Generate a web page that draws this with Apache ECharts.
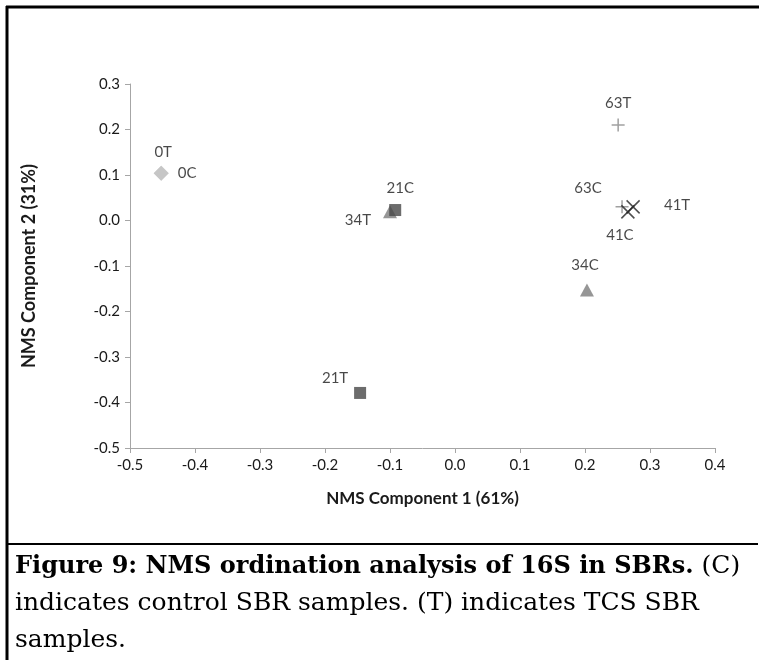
<!DOCTYPE html>
<html>
<head>
<meta charset="utf-8">
<script src="https://cdn.jsdelivr.net/npm/echarts@6/dist/echarts.min.js"></script>
<style>
html,body{margin:0;padding:0;background:#fff;}
#chart{width:759px;height:660px;}
</style>
</head>
<body>
<div id="chart"></div>
<script>
// ---- data ----
const sampleNames = ["0C","0T","21C","21T","34C","34T","41C","41T","63C","63T"];
const comp1 = [-0.452,-0.452,-0.092,-0.146,0.203,-0.100,0.266,0.274,0.257,0.251];
const comp2 = [0.104,0.104,0.023,-0.379,-0.153,0.019,0.019,0.030,0.030,0.210];
const groups = ["0","0","21","21","34","34","41","41","63","63"];
const xTicks = [-0.5,-0.4,-0.3,-0.2,-0.1,0.0,0.1,0.2,0.3,0.4];
const yTicks = [-0.5,-0.4,-0.3,-0.2,-0.1,0.0,0.1,0.2,0.3];
const xTitle = "NMS Component 1 (61%)";
const yTitle = "NMS Component 2 (31%)";
const captionBold = "Figure 9: NMS ordination analysis of 16S in SBRs.";
const captionRest1 = " (C)";
const captionLine2 = "indicates control SBR samples. (T) indicates TCS SBR";
const captionLine3 = "samples.";

// ---- styles ----
const groupStyle = {
  "0":  {symbol:'diamond', size:[15,15], item:{color:'#c3c3c3'}},
  "21": {symbol:'rect', size:[12,12], item:{color:'#474747'}},
  "34": {symbol:'triangle', size:[14,13], item:{color:'#7c7c7c'}},
  "41": {symbol:'path://M0,0L10,10M10,0L0,10', size:[13,13], item:{color:'rgba(0,0,0,0)', borderColor:'#222', borderWidth:1.5}},
  "63": {symbol:'path://M0,5L10,5M5,0L5,10', size:[13,13], item:{color:'rgba(0,0,0,0)', borderColor:'#888', borderWidth:1.5}}
};
const labelOffset = {
  "0T":[2,-21], "0C":[26,0], "21C":[5,-22], "34T":[-32,8], "21T":[-25,-15],
  "34C":[-2,-25], "63T":[0,-22], "63C":[-34,-19], "41T":[44,-2], "41C":[-8,23]
};
const groupOrder = ["0","34","21","63","41"];

const series = groupOrder.map(g => {
  const st = groupStyle[g];
  const data = [];
  const names = [];
  sampleNames.forEach((n,i) => {
    if (groups[i] !== g) return;
    names.push(n);
    data.push({name:n, value:[comp1[i], comp2[i]]});
  });
  return {
    type:'scatter', name:g, symbol:st.symbol, symbolSize:st.size,
    itemStyle:Object.assign({}, st.item), data, z:3, silent:true,
    label:{show:true, formatter:p => p.name, position:'inside',
           color:'#1a1a1a', fontSize:15, fontFamily:'Lato, "Open Sans", sans-serif'},
    labelLayout:function(params){
      const off = labelOffset[names[params.dataIndex]];
      return {dx:off[0], dy:off[1], hideOverlap:false};
    }
  };
});

const chart = echarts.init(document.getElementById('chart'), null, {renderer:'canvas'});
const axisFont = 'Lato, "Open Sans", sans-serif';
chart.setOption({
  animation:false,
  backgroundColor:'#fff',
  grid:{left:130, right:44, top:84, bottom:212, containLabel:false},
  xAxis:{
    type:'value', min:xTicks[0], max:xTicks[xTicks.length-1], interval:0.1,
    name:xTitle, nameLocation:'middle', nameGap:42,
    nameTextStyle:{fontSize:17, fontWeight:'bold', color:'#1a1a1a', fontFamily:axisFont},
    axisLine:{show:true, onZero:false, lineStyle:{color:'#a6a6a6', width:1}},
    axisTick:{show:true, length:5, lineStyle:{color:'#a6a6a6'}},
    splitLine:{show:false},
    axisLabel:{fontSize:15, color:'#1a1a1a', fontFamily:axisFont, margin:10,
               formatter:v => v.toFixed(1)}
  },
  yAxis:{
    type:'value', min:yTicks[0], max:yTicks[yTicks.length-1], interval:0.1,
    name:yTitle, nameLocation:'middle', nameGap:92, nameRotate:90,
    nameTextStyle:{fontSize:18, fontWeight:'bold', color:'#1a1a1a', fontFamily:axisFont},
    axisLine:{show:true, onZero:false, lineStyle:{color:'#a6a6a6', width:1}},
    axisTick:{show:true, length:5, lineStyle:{color:'#a6a6a6'}},
    splitLine:{show:false},
    axisLabel:{fontSize:15, color:'#1a1a1a', fontFamily:axisFont, margin:10,
               formatter:v => v.toFixed(1)}
  },
  series,
  graphic:[
    {type:'line', shape:{x1:6, y1:7, x2:759, y2:7}, style:{stroke:'#000', lineWidth:3}},
    {type:'line', shape:{x1:7, y1:6, x2:7, y2:660}, style:{stroke:'#000', lineWidth:3}},
    {type:'line', shape:{x1:7, y1:544, x2:758, y2:544}, style:{stroke:'#000', lineWidth:2}},
    {type:'text', left:15, top:554, style:{
      text:'{b|'+captionBold+'}{r|'+captionRest1+'}',
      rich:{
        b:{fontFamily:'"DejaVu Serif", serif', fontWeight:'bold', fontSize:24, fill:'#000'},
        r:{fontFamily:'"DejaVu Serif", serif', fontSize:25, fill:'#000'}
      }}},
    {type:'text', left:15, top:591, style:{text:captionLine2, font:'25px "DejaVu Serif", serif', fill:'#000'}},
    {type:'text', left:15, top:628, style:{text:captionLine3, font:'25px "DejaVu Serif", serif', fill:'#000'}}
  ]
});
</script>
</body>
</html>
